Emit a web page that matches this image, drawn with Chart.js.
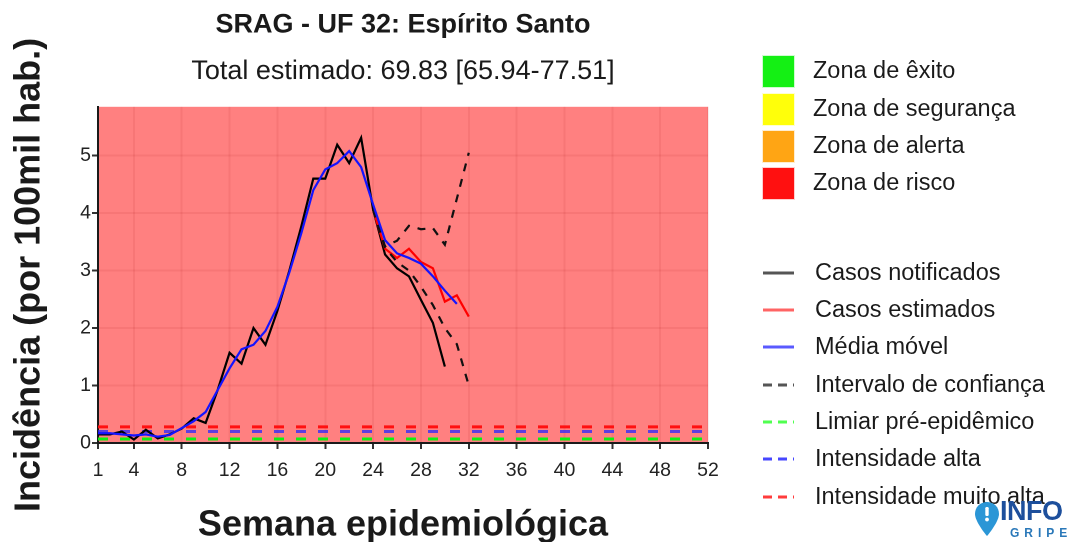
<!DOCTYPE html>
<html>
<head>
<meta charset="utf-8">
<script src="https://cdn.jsdelivr.net/npm/chart.js@4"></script>
<style>
  body { margin: 0; background: #fff; }
  #wrap { position: relative; width: 1076px; height: 542px; overflow: hidden; font-family: 'Liberation Sans', Arial, sans-serif; }
  #c { position: absolute; left: 0; top: 0; }
  .zkey { position: absolute; left: 762px; width: 33px; height: 33px; box-sizing: border-box; border: 1px solid rgba(255,255,255,0.8); }
  .lab { position: absolute; left: 813px; font-size: 23.5px; line-height: 1; color: #1a1a1a; white-space: nowrap; transform: translateY(-50%); }
  .lkey { position: absolute; left: 762px; width: 34px; height: 8px; transform: translateY(-50%); }
  #logo { position: absolute; left: 975px; top: 498px; width: 101px; height: 44px; }
  #logo .info { position: absolute; left: 25px; top: 0px; font-weight: bold; font-size: 27px; line-height: 1; color: #1d4f9c; letter-spacing: -0.5px; }
  #logo .gripe { position: absolute; left: 35px; top: 29px; font-weight: bold; font-size: 12px; line-height: 1; color: #2a78b9; letter-spacing: 5px; }
</style>
</head>
<body>
<div id="wrap">
  <canvas id="c" width="1076" height="542"></canvas>
  <div id="legend"></div>
  <div id="logo">
    <svg width="24" height="34" viewBox="0 0 24 34" style="position:absolute;left:0;top:4px;">
      <path d="M12 0 C5 0 0 5 0 12 C0 20 12 34 12 34 C12 34 24 20 24 12 C24 5 19 0 12 0Z" fill="#2b96d6"/>
      <rect x="10.3" y="5" width="3.4" height="9" rx="1.2" fill="#fff"/>
      <circle cx="12" cy="17.5" r="1.9" fill="#fff"/>
    </svg>
    <div class="info">INFO</div>
    <div class="gripe">GRIPE</div>
  </div>
</div>
<script>
// ---------------- data ----------------
const notifiedWeeks = [1,2,3,4,5,6,7,8,9,10,11,12,13,14,15,16,17,18,19,20,21,22,23,24,25,26,27,28,29,30];
const casosNotificados = [0.15,0.15,0.20,0.06,0.23,0.08,0.15,0.25,0.43,0.35,0.92,1.57,1.38,2.00,1.71,2.30,3.00,3.77,4.60,4.60,5.19,4.87,5.31,4.06,3.28,3.04,2.90,2.49,2.09,1.33];

const estimatedWeeks = [24,25,26,27,28,29,30,31,32];
const casosEstimados = [4.06,3.38,3.22,3.38,3.15,3.04,2.46,2.57,2.20];
const intervaloInferior = [4.06,3.40,3.15,3.00,2.72,2.40,2.00,1.72,1.00];
const intervaloSuperior = [4.06,3.42,3.52,3.78,3.72,3.74,3.45,4.25,5.05];

const movingAvgWeeks = [1,2,3,4,5,6,7,8,9,10,11,12,13,14,15,16,17,18,19,20,21,22,23,24,25,26,27,28,29,30,31];
const mediaMovel = [0.17,0.17,0.15,0.13,0.15,0.11,0.14,0.26,0.38,0.54,0.92,1.30,1.63,1.71,1.95,2.37,2.97,3.65,4.40,4.76,4.87,5.08,4.80,4.15,3.53,3.30,3.22,3.12,2.90,2.65,2.42];

const limiarPreEpidemico = 0.07;
const intensidadeAlta = 0.20;
const intensidadeMuitoAlta = 0.28;

const xTickLabels = [1,4,8,12,16,20,24,28,32,36,40,44,48,52];
const yTickLabels = [0,1,2,3,4,5];
const xMin = 1, xMax = 52, yMin = 0, yMax = 5.85;

const titleText = 'SRAG - UF 32: Espírito Santo';
const subtitleText = 'Total estimado: 69.83 [65.94-77.51]';
const xTitle = 'Semana epidemiológica';
const yTitle = 'Incidência (por 100mil hab.)';

const zoneLegend = [
  ['Zona de êxito', '#14f014'],
  ['Zona de segurança', '#ffff0a'],
  ['Zona de alerta', '#ffa514'],
  ['Zona de risco', '#ff1010']
];
const lineLegend = [
  ['Casos notificados', '#555555', false],
  ['Casos estimados', '#ff6464', false],
  ['Média móvel', '#5a5aff', false],
  ['Intervalo de confiança', '#555555', true],
  ['Limiar pré-epidêmico', '#50ff50', true],
  ['Intensidade alta', '#4646ff', true],
  ['Intensidade muito alta', '#ff3c3c', true]
];

// ---------------- helpers ----------------
const pts = (ws, vs) => ws.map((w, i) => ({ x: w, y: vs[i] }));
const hline = v => [{ x: xMin, y: v }, { x: xMax, y: v }];
const FONT = "'Liberation Sans', Arial, sans-serif";

const lineDs = (label, data, color, width, dash) => ({
  label, data, borderColor: color, backgroundColor: color, borderWidth: width,
  borderDash: dash || [], pointRadius: 0, tension: 0, fill: false
});

const panelBg = {
  id: 'panelBg',
  beforeDraw(chart) {
    const { ctx, chartArea: a } = chart;
    ctx.save();
    ctx.fillStyle = 'rgb(255,128,128)';
    ctx.fillRect(a.left, a.top, a.right - a.left, a.bottom - a.top);
    ctx.restore();
  }
};

new Chart(document.getElementById('c'), {
  type: 'line',
  data: {
    datasets: [
      lineDs('Média móvel', pts(movingAvgWeeks, mediaMovel), '#1414ff', 2.2),
      lineDs('Intervalo de confiança (sup.)', pts(estimatedWeeks, intervaloSuperior), '#111', 2.2, [8, 8]),
      lineDs('Intervalo de confiança (inf.)', pts(estimatedWeeks, intervaloInferior), '#111', 2.2, [8, 8]),
      lineDs('Casos estimados', pts(estimatedWeeks, casosEstimados), '#ff0000', 2.2),
      lineDs('Casos notificados', pts(notifiedWeeks, casosNotificados), '#000', 2.2),
      lineDs('Intensidade muito alta', hline(intensidadeMuitoAlta), '#ff1010', 3, [10, 12]),
      lineDs('Intensidade alta', hline(intensidadeAlta), 'rgba(40,40,255,0.75)', 3, [10, 12]),
      lineDs('Limiar pré-epidêmico', hline(limiarPreEpidemico), '#10f010', 3, [10, 12])
    ]
  },
  options: {
    responsive: false,
    animation: false,
    devicePixelRatio: 2,
    layout: { padding: { left: 0, right: 368, top: 0, bottom: 0 } },
    plugins: {
      legend: { display: false },
      tooltip: { enabled: false },
      title: {
        display: true, text: titleText, fullSize: false, color: '#1a1a1a',
        font: { family: FONT, size: 27, weight: 'bold' },
        padding: { top: 9, bottom: 14 }
      },
      subtitle: {
        display: true, text: subtitleText, fullSize: false, color: '#1a1a1a',
        font: { family: FONT, size: 27, weight: 'normal' },
        padding: { top: 0, bottom: 19 }
      }
    },
    scales: {
      x: {
        type: 'linear', min: xMin, max: xMax,
        afterBuildTicks: s => { s.ticks = xTickLabels.map(v => ({ value: v })); },
        afterFit: s => { s.height = 99; },
        grid: { color: 'rgba(150,0,0,0.08)', lineWidth: 2, drawTicks: true, tickLength: 6, tickColor: '#333', tickWidth: 2 },
        border: { display: true, color: '#1a1a1a', width: 2 },
        ticks: { color: '#222', font: { family: FONT, size: 19.5 }, padding: 10, maxRotation: 0, autoSkip: false, callback: v => String(v) },
        title: { display: true, text: xTitle, color: '#1a1a1a', font: { family: FONT, size: 36, weight: 'bold' }, padding: { top: 0, bottom: -5 } }
      },
      y: {
        type: 'linear', min: yMin, max: yMax,
        afterBuildTicks: s => { s.ticks = yTickLabels.map(v => ({ value: v })); },
        afterFit: s => { s.width = 98; },
        grid: { color: 'rgba(150,0,0,0.08)', lineWidth: 2, drawTicks: true, tickLength: 6, tickColor: '#333', tickWidth: 2 },
        border: { display: true, color: '#1a1a1a', width: 2 },
        ticks: { color: '#222', font: { family: FONT, size: 19.5 }, padding: 1, callback: v => String(v) },
        title: { display: true, text: yTitle, color: '#1a1a1a', font: { family: FONT, size: 36, weight: 'bold' }, padding: { top: 8, bottom: 0 } }
      }
    }
  },
  plugins: [panelBg]
});

// ---------------- legend (HTML) ----------------
const leg = document.getElementById('legend');
const zoneRows = [71, 109, 146, 183];
zoneLegend.forEach(([txt, col], i) => {
  const k = document.createElement('div');
  k.className = 'zkey';
  k.style.top = (zoneRows[i] - 16.5) + 'px';
  k.style.background = col;
  leg.appendChild(k);
  const t = document.createElement('div');
  t.className = 'lab';
  t.style.top = zoneRows[i] + 'px';
  t.textContent = txt;
  leg.appendChild(t);
});
const lineRows = [273, 310, 347, 385, 422, 459, 497];
lineLegend.forEach(([txt, col, dashed], i) => {
  const k = document.createElementNS('http://www.w3.org/2000/svg', 'svg');
  k.setAttribute('class', 'lkey');
  k.setAttribute('width', '34'); k.setAttribute('height', '8');
  k.style.top = lineRows[i] + 'px';
  const l = document.createElementNS('http://www.w3.org/2000/svg', 'line');
  l.setAttribute('x1', '1'); l.setAttribute('x2', '32'); l.setAttribute('y1', '4'); l.setAttribute('y2', '4');
  l.setAttribute('stroke', col); l.setAttribute('stroke-width', '3');
  if (dashed) l.setAttribute('stroke-dasharray', '9 6');
  k.appendChild(l);
  leg.appendChild(k);
  const t = document.createElement('div');
  t.className = 'lab';
  t.style.left = '815px';
  t.style.top = lineRows[i] + 'px';
  t.textContent = txt;
  leg.appendChild(t);
});
</script>
</body>
</html>
